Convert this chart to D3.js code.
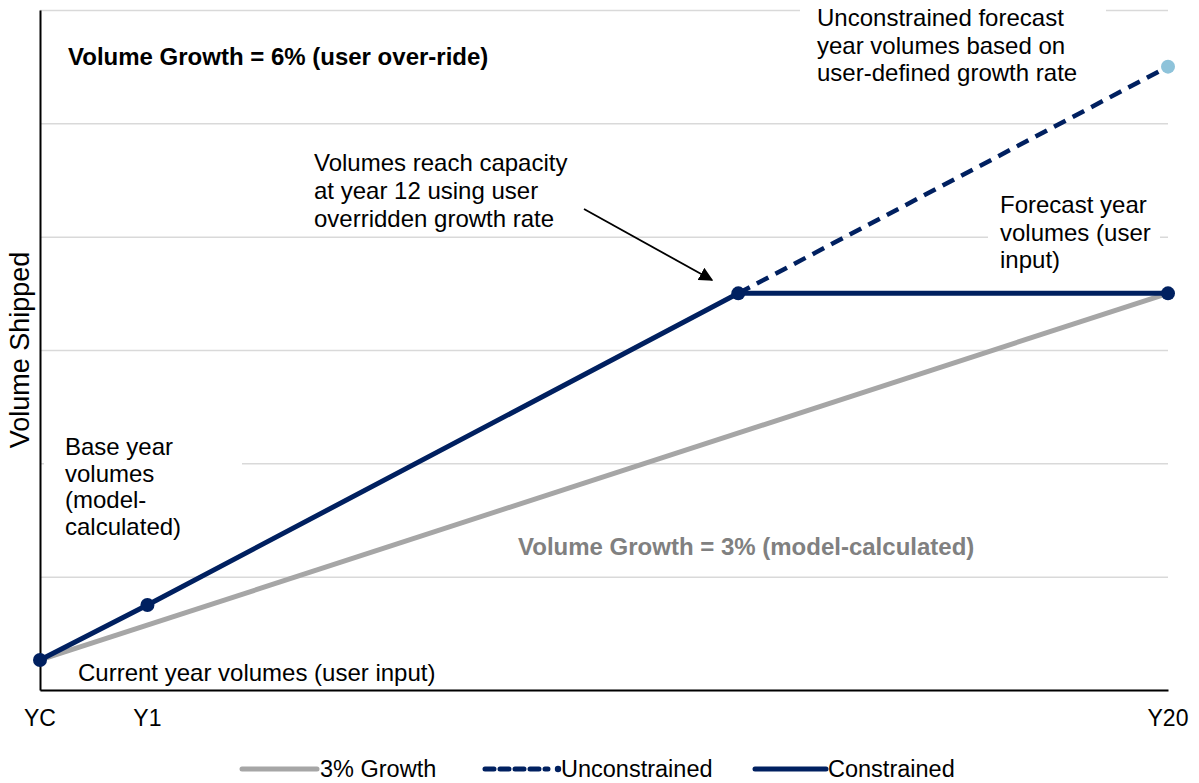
<!DOCTYPE html>
<html>
<head>
<meta charset="utf-8">
<script src="https://cdn.jsdelivr.net/npm/d3@7"></script>
<style>
  html, body { margin: 0; padding: 0; background: #fff; }
  svg { display: block; font-family: Arial, "Liberation Sans", sans-serif; }
</style>
</head>
<body>
<svg id="chart" width="1199" height="783"></svg>
<script>
// Period positions on the horizontal axis (YC = current year)
const periods = ["YC", "Y1", "Y12", "Y20"];
const periodPos = [0, 2, 13, 21];
const tickLabels = ["YC", "Y1", "Y20"];

// Volume series (arbitrary volume units)
const growth3 = [26.5, null, null, 350];          // 3% model-calculated growth
const unconstrained = [null, null, 350, 550];     // 6% user growth, no capacity cap
const constrained = [26.5, 75, 350, 350];         // 6% growth capped at capacity

const yGridValues = [0, 100, 200, 300, 400, 500, 600];

const navy = "#002060", grey = "#a6a6a6", lightBlue = "#8ec3da";

const svg = d3.select("#chart");
const x = d3.scaleLinear().domain([0, 21]).range([40, 1168]);
const y = d3.scaleLinear().domain([0, 600]).range([690, 10]);

// gridlines
svg.append("g")
  .attr("transform", "translate(40,0)")
  .call(d3.axisLeft(y).tickValues(yGridValues).tickSize(-1128).tickFormat(""))
  .call(g => g.select(".domain").remove())
  .call(g => g.selectAll("line").attr("stroke", "#d9d9d9").attr("stroke-width", 1.5));

// white text boxes that sit over the gridlines
const boxes = [
  [44, 430, 198, 110],
  [800, 0, 306, 92],
  [988, 184, 172, 86]
];
svg.append("g").selectAll("rect").data(boxes).join("rect")
  .attr("x", d => d[0]).attr("y", d => d[1])
  .attr("width", d => d[2]).attr("height", d => d[3])
  .attr("fill", "#fff");

// axes
svg.append("g")
  .attr("transform", "translate(0,690)")
  .call(d3.axisBottom(x).tickValues([]).tickSize(0))
  .call(g => g.select(".domain").attr("stroke", "#000").attr("stroke-width", 2));
svg.append("g")
  .attr("transform", "translate(40,0)")
  .call(d3.axisLeft(y).tickValues([]).tickSize(0))
  .call(g => g.select(".domain").attr("stroke", "#000").attr("stroke-width", 2));

// tick labels
svg.append("g").selectAll("text").data(tickLabels).join("text")
  .attr("x", d => x(periodPos[periods.indexOf(d)]))
  .attr("y", 726)
  .attr("text-anchor", "middle")
  .attr("font-size", 23)
  .attr("fill", "#000")
  .text(d => d);

// axis title
svg.append("text")
  .attr("transform", "translate(29,350) rotate(-90)")
  .attr("text-anchor", "middle")
  .attr("font-size", 27)
  .attr("fill", "#000")
  .text("Volume Shipped");

const pts = vals => vals.map((v, i) => ({ x: periodPos[i], v })).filter(d => d.v !== null);
const line = d3.line().x(d => x(d.x)).y(d => y(d.v));

// series lines
svg.append("path").datum(pts(growth3)).attr("d", line)
  .attr("fill", "none").attr("stroke", grey).attr("stroke-width", 5);
svg.append("path").datum(pts(unconstrained)).attr("d", line)
  .attr("fill", "none").attr("stroke", navy).attr("stroke-width", 4.5)
  .attr("stroke-dasharray", "13,8");
svg.append("path").datum(pts(constrained)).attr("d", line)
  .attr("fill", "none").attr("stroke", navy).attr("stroke-width", 5);

// markers
const uPts = pts(unconstrained);
svg.append("circle")
  .attr("cx", x(uPts[uPts.length - 1].x)).attr("cy", y(uPts[uPts.length - 1].v))
  .attr("r", 7).attr("fill", lightBlue);
svg.append("g").selectAll("circle").data(pts(constrained)).join("circle")
  .attr("cx", d => x(d.x)).attr("cy", d => y(d.v))
  .attr("r", 7).attr("fill", navy);

// annotations
function block(lines, x0, y0, lh, opts = {}) {
  const t = svg.append("text")
    .attr("x", x0).attr("y", y0)
    .attr("font-size", opts.size || 24)
    .attr("font-weight", opts.weight || "normal")
    .attr("fill", opts.color || "#000");
  lines.forEach((s, i) => t.append("tspan").attr("x", x0).attr("y", y0 + i * lh).text(s));
}
block(["Volume Growth = 6% (user over-ride)"], 68, 65, 0, { weight: "bold", size: 24 });
block(["Unconstrained forecast", "year volumes based on", "user-defined growth rate"], 817, 26, 27.5);
block(["Volumes reach capacity", "at year 12 using user", "overridden growth rate"], 314, 171, 28);
block(["Forecast year", "volumes (user", "input)"], 1000, 213, 27.5);
block(["Base year", "volumes", "(model-", "calculated)"], 65, 455, 26.7);
block(["Volume Growth = 3% (model-calculated)"], 518, 555, 0, { weight: "bold", size: 24, color: "#808080" });
block(["Current year volumes (user input)"], 78, 681, 0);

// arrow to the capacity point
const defs = svg.append("defs");
defs.append("marker")
  .attr("id", "arrowHead")
  .attr("viewBox", "0 0 10 10")
  .attr("refX", 9).attr("refY", 5)
  .attr("markerWidth", 14).attr("markerHeight", 14)
  .attr("markerUnits", "userSpaceOnUse")
  .attr("orient", "auto")
  .append("path").attr("d", "M0,0 L10,5 L0,10 z").attr("fill", "#000");
svg.append("line")
  .attr("x1", 584).attr("y1", 209).attr("x2", 712).attr("y2", 280)
  .attr("stroke", "#000").attr("stroke-width", 1.8)
  .attr("marker-end", "url(#arrowHead)");

// legend
const legendY = 769;
const leg = svg.append("g");
leg.append("line").attr("x1", 242).attr("x2", 317).attr("y1", legendY).attr("y2", legendY)
  .attr("stroke", grey).attr("stroke-width", 5).attr("stroke-linecap", "round");
leg.append("line").attr("x1", 485).attr("x2", 548).attr("y1", legendY).attr("y2", legendY)
  .attr("stroke", navy).attr("stroke-width", 5).attr("stroke-dasharray", "9,6").attr("stroke-linecap", "round");
leg.append("circle").attr("cx", 558).attr("cy", legendY).attr("r", 3.2).attr("fill", navy);
leg.append("line").attr("x1", 755).attr("x2", 826).attr("y1", legendY).attr("y2", legendY)
  .attr("stroke", navy).attr("stroke-width", 5).attr("stroke-linecap", "round");
const legendText = [["3% Growth", 320], ["Unconstrained", 561], ["Constrained", 828]];
leg.selectAll("text.lg").data(legendText).join("text")
  .attr("class", "lg")
  .attr("x", d => d[1]).attr("y", legendY + 8)
  .attr("font-size", 23.5)
  .attr("fill", "#000")
  .text(d => d[0]);
</script>
</body>
</html>
